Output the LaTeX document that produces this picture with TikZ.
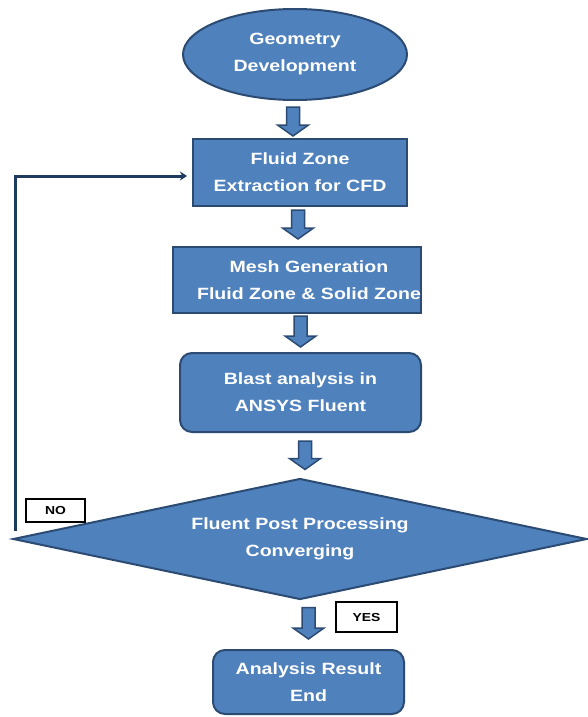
\documentclass[tikz,border=0pt]{standalone}
\usepackage{fontspec}
\newfontfamily\lbl{Liberation Sans}[FakeStretch=1.2]
\usetikzlibrary{shapes.geometric,arrows.meta,calc}
\definecolor{boxfill}{HTML}{4F81BD}
\definecolor{boxline}{HTML}{2B4B73}
\definecolor{fbline}{HTML}{1F3A5F}
\tikzset{
  base/.style={fill=boxfill, draw=boxline, line width=2pt, text=white,
    font=\lbl\bfseries\fontsize{16.3}{27}\selectfont, align=center, inner sep=0pt},
  roundbox/.style={base, rounded corners=12pt},
  tagbox/.style={draw=black, fill=white, line width=1.2pt, text=black, inner sep=0pt,
    font=\lbl\bfseries\fontsize{11.6}{14}\selectfont},
  barr/.style={fill=boxfill, draw=boxline, line width=1.5pt, line join=miter},
  fb/.style={draw=fbline, line width=3pt, -{Stealth[length=7pt,width=9pt]}, shorten >=5pt}
}
\newcommand\blockarr[5]{%
  \path[barr] let \p1=(#1.south), \p2=(#2.north) in
    ({(#3-6.5)*1pt},{\y1-#4pt}) -- ({(#3+6.5)*1pt},{\y1-#4pt})
    -- ({(#3+6.5)*1pt},{\y2+#5pt+11pt}) -- ({(#3+15.5)*1pt},{\y2+#5pt+11pt})
    -- ({#3*1pt},{\y2+#5pt}) -- ({(#3-15.5)*1pt},{\y2+#5pt+11pt})
    -- ({(#3-6.5)*1pt},{\y2+#5pt+11pt}) -- cycle;}
\begin{document}
\begin{tikzpicture}[x=1pt,y=-1pt]
\useasboundingbox (0,0) rectangle (587,717);
\node[base, ellipse, minimum width=224pt, minimum height=91pt] (geo) at (295,54.5) {Geometry\\Development};
\node[base, minimum width=214pt, minimum height=67pt] (fz) at (300,172.5) {Fluid Zone\\Extraction for CFD};
\node[base, minimum width=248pt, minimum height=66pt] (mesh) at (297,280) {\hspace*{24pt}Mesh Generation\\\hspace*{24pt}Fluid Zone \& Solid Zone};
\node[roundbox, minimum width=241pt, minimum height=79pt] (blast) at (300.5,392.5) {Blast analysis in\\ANSYS Fluent};
\node[base, diamond, shape aspect=4.75, minimum width=574pt, minimum height=121pt] (dec) at (300,539) {Fluent Post Processing\\Converging};
\node[roundbox, minimum width=191pt, minimum height=64pt] (endb) at (308.5,682) {Analysis Result\\End};
\node[tagbox, minimum width=59pt, minimum height=23pt] (no) at (55.5,510.5) {NO};
\node[tagbox, minimum width=61pt, minimum height=30pt] (yes) at (366.5,617) {YES};
\blockarr{geo}{fz}{293}{6}{2}
\blockarr{fz}{mesh}{298}{3}{7}
\blockarr{mesh}{blast}{300.5}{2}{5}
\blockarr{blast}{dec}{305}{8}{8}
\blockarr{dec}{endb}{308.5}{7}{10}
\coordinate (nostart) at (15,531);
\draw[fb] (nostart) |- ([yshift=-3.5pt]fz.west);
\end{tikzpicture}
\end{document}
